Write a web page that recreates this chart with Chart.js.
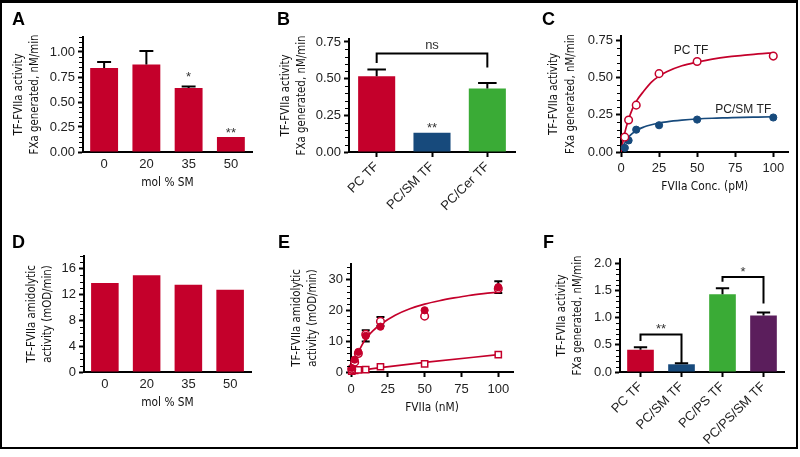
<!DOCTYPE html>
<html>
<head>
<meta charset="utf-8">
<script src="https://cdn.jsdelivr.net/npm/chart.js@4.4.1/dist/chart.umd.min.js"></script>
<style>
  html, body { margin: 0; padding: 0; background: #fff; }
  #fig { position: relative; width: 800px; height: 457px; overflow: hidden; background: #fff; }
  .panel { position: absolute; }
  .letter { position: absolute; font: bold 18px 'Liberation Sans', Arial, sans-serif; line-height: 18px; color: #000; }
  #frame { position: absolute; left: 0; top: 0; width: 798px; height: 449px; box-sizing: border-box;
           border: 2px solid #000; border-top-width: 3px; pointer-events: none; }
</style>
</head>
<body>
<div id="fig">
  <div class="panel" style="left:0;top:0;width:265px;height:220px"><canvas id="chartA"></canvas></div>
  <div class="panel" style="left:265px;top:0;width:265px;height:220px"><canvas id="chartB"></canvas></div>
  <div class="panel" style="left:530px;top:0;width:268px;height:220px"><canvas id="chartC"></canvas></div>
  <div class="panel" style="left:0;top:220px;width:265px;height:228px"><canvas id="chartD"></canvas></div>
  <div class="panel" style="left:265px;top:220px;width:265px;height:228px"><canvas id="chartE"></canvas></div>
  <div class="panel" style="left:530px;top:220px;width:268px;height:228px"><canvas id="chartF"></canvas></div>
  <div class="letter" style="left:12px;top:10px">A</div>
  <div class="letter" style="left:277px;top:10px">B</div>
  <div class="letter" style="left:542px;top:10px">C</div>
  <div class="letter" style="left:12px;top:233px">D</div>
  <div class="letter" style="left:278px;top:233px">E</div>
  <div class="letter" style="left:543px;top:233px">F</div>
  <div id="frame"></div>
</div>
<script>
// A: FXa generation vs mol % SM
const molSM = ['0', '20', '35', '50'];
const activityA = [0.84, 0.875, 0.64, 0.15];
const activityAErr = [0.06, 0.135, 0.016, 0];

// B: lipid compositions
const lipidsB = ['PC TF', 'PC/SM TF', 'PC/Cer TF'];
const activityB = [0.517, 0.132, 0.433];
const activityBErr = [0.046, 0, 0.038];

// C: FVIIa titration (pM)
const fviiaC = [2.5, 5, 10, 25, 50, 100];
const pcTfC = [0.10, 0.215, 0.315, 0.527, 0.609, 0.645];
const pcSmTfC = [0.028, 0.078, 0.15, 0.18, 0.218, 0.232];
const fitXC = [0, 2.5, 5, 7.5, 10, 15, 20, 25, 30, 40, 50, 60, 70, 80, 90, 100];
const pcTfFitC = [0, 0.13, 0.22, 0.29, 0.34, 0.41, 0.47, 0.51, 0.54, 0.58, 0.605, 0.625, 0.64, 0.65, 0.66, 0.667];
const pcSmTfFitC = [0, 0.06, 0.10, 0.125, 0.145, 0.168, 0.183, 0.195, 0.203, 0.214, 0.222, 0.227, 0.23, 0.233, 0.235, 0.237];

// D: amidolytic activity vs mol % SM
const amidoD = [13.8, 15.0, 13.55, 12.75];

// E: amidolytic activity vs FVIIa (nM)
const fviiaE = [0.5, 2.5, 5, 10, 20, 50, 100];
const filledE = [1.3, 4.0, 6.5, 11.7, 14.7, 20.0, 27.5];
const filledErrE = [0, 0, 0, 1.8, 0, 0, 1.9];
const openE = [0.9, 3.2, 6.0, 12.2, 16.4, 18.1, 27.0];
const openErrE = [0, 0, 0, 0, 1.4, 0, 0];
const squaresE = [0.3, 0.5, 0.7, 0.8, 1.7, 2.6, 5.6];
const fitXE = [0, 2.5, 5, 10, 15, 20, 30, 40, 50, 60, 70, 80, 90, 100];
const fitFilledE = [0, 3.5, 6.4, 10.8, 13.4, 15.4, 18.4, 20.5, 22.0, 23.1, 24.0, 24.8, 25.4, 25.9];
const fitSqX = [0, 10, 20, 50, 100];
const fitSquaresE = [0, 0.75, 1.4, 3.1, 5.6];

// F: PS-containing vesicles
const lipidsF = ['PC TF', 'PC/SM TF', 'PC/PS TF', 'PC/PS/SM TF'];
const activityF = [0.41, 0.142, 1.43, 1.04];
const activityFErr = [0.046, 0.02, 0.11, 0.056];

const RED = '#c4002b', BLUE = '#174a7c', GREEN = '#3aab36', PURPLE = '#5b1e5c';
const tickFont = { family: "'Liberation Sans', Arial, sans-serif", size: 13 };
const narrow = "'DejaVu Sans Condensed', 'Liberation Sans Narrow', 'Arial Narrow', sans-serif";
const yTitleFont = { family: narrow, size: 11.4, lineHeight: 1.45 };
const xTitleFont = { family: narrow, size: 11.8, lineHeight: 1.3 };

const xy = (xs, ys) => xs.map((x, i) => ({ x, y: ys[i] }));
// ticks only at multiples of the step, up to the axis max
const stepTicks = step => s => {
  const n = Math.floor(s.max / step + 1e-6);
  s.ticks = Array.from({ length: n + 1 }, (_, i) => ({ value: i * step }));
};

function yAxis(max, step, dec, title, titleGap, width) {
  return {
    min: 0, max, z: 1,
    afterBuildTicks: stepTicks(step),
    afterFit: s => { s.width = width; },
    ticks: { stepSize: step, font: tickFont, color: '#222', padding: 3, callback: v => v.toFixed(dec) },
    grid: { drawOnChartArea: false, tickLength: 5, tickWidth: 2, tickColor: '#000' },
    border: { color: '#000', width: 2 },
    title: { display: true, text: title, font: yTitleFont, color: '#111', padding: { top: titleGap, bottom: 0 } }
  };
}

function xCategory(title, rotation, showTicks, height, labelPad, titlePad) {
  return {
    z: 1,
    afterFit: s => { s.height = height; },
    ticks: { font: tickFont, color: '#222', padding: labelPad, autoSkip: false, minRotation: rotation, maxRotation: rotation },
    grid: { drawOnChartArea: false, offset: false, drawTicks: showTicks, tickLength: 5, tickWidth: 2, tickColor: '#000' },
    border: { color: '#000', width: 2 },
    title: title ? { display: true, text: title, font: xTitleFont, color: '#111', padding: { top: 0, bottom: titlePad } } : { display: false }
  };
}

function xLinear(max, step, title, height, labelPad, titlePad) {
  return {
    type: 'linear', min: 0, max, z: 1,
    afterBuildTicks: stepTicks(step),
    afterFit: s => { s.height = height; },
    ticks: { stepSize: step, font: tickFont, color: '#222', padding: labelPad },
    grid: { drawOnChartArea: false, tickLength: 5, tickWidth: 2, tickColor: '#000' },
    border: { color: '#000', width: 2 },
    title: { display: true, text: title, font: xTitleFont, color: '#111', padding: { top: 0, bottom: titlePad } }
  };
}

function drawErrors(chart, list) {
  const ctx = chart.ctx, ys = chart.scales.y;
  ctx.save();
  ctx.strokeStyle = '#000';
  ctx.lineWidth = 2;
  list.forEach(e => {
    const meta = chart.getDatasetMeta(e.dataset);
    const data = chart.data.datasets[e.dataset].data;
    e.values.forEach((err, i) => {
      if (!err) return;
      const el = meta.data[i];
      const v = typeof data[i] === 'object' ? data[i].y : data[i];
      const half = e.bars ? el.width / 4 : e.cap / 2;
      const top = ys.getPixelForValue(v + err);
      const bot = ys.getPixelForValue(e.bars ? v : v - err);
      ctx.beginPath();
      ctx.moveTo(el.x, bot); ctx.lineTo(el.x, top);
      ctx.moveTo(el.x - half, top); ctx.lineTo(el.x + half, top);
      if (!e.bars) { ctx.moveTo(el.x - half, bot); ctx.lineTo(el.x + half, bot); }
      ctx.stroke();
    });
  });
  ctx.restore();
}

const marks = {
  id: 'marks',
  beforeDatasetsDraw(chart, args, o) {
    drawErrors(chart, (o.errors || []).filter(e => !e.bars));
  },
  afterDatasetsDraw(chart, args, o) {
    drawErrors(chart, (o.errors || []).filter(e => e.bars));
    const ctx = chart.ctx, xs = chart.scales.x, ys = chart.scales.y;
    ctx.save();
    ctx.strokeStyle = '#000';
    ctx.lineWidth = 2;
    (o.brackets || []).forEach(b => {
      const x1 = xs.getPixelForValue(b.from), x2 = xs.getPixelForValue(b.to), y = ys.getPixelForValue(b.y);
      ctx.beginPath();
      ctx.moveTo(x1, ys.getPixelForValue(b.ends[0]));
      ctx.lineTo(x1, y); ctx.lineTo(x2, y);
      ctx.lineTo(x2, ys.getPixelForValue(b.ends[1]));
      ctx.stroke();
    });
    ctx.textAlign = 'center';
    ctx.textBaseline = 'alphabetic';
    (o.notes || []).forEach(n => {
      ctx.font = (n.size || 13) + "px 'Liberation Sans', Arial, sans-serif";
      ctx.fillStyle = n.color || '#333';
      ctx.fillText(n.text, xs.getPixelForValue(n.x), ys.getPixelForValue(n.y));
    });
    ctx.restore();
  },
  afterDraw(chart, args, o) {
    if (!o.minor) return;
    const ctx = chart.ctx, ys = chart.scales.y, x0 = chart.chartArea.left - 1;
    const n = Math.floor(ys.max / o.minor + 1e-6);
    ctx.save();
    ctx.strokeStyle = '#000';
    ctx.lineWidth = 1.2;
    ctx.beginPath();
    for (let i = 1; i <= n; i++) {
      const v = i * o.minor;
      if (Math.abs(v / o.major - Math.round(v / o.major)) < 1e-6) continue;
      const y = Math.round(ys.getPixelForValue(v)) + 0.5;
      ctx.moveTo(x0 - 3, y); ctx.lineTo(x0, y);
    }
    ctx.stroke();
    ctx.restore();
  }
};

function options(pad, scales, marksOpts) {
  return {
    responsive: true, maintainAspectRatio: false, animation: false,
    layout: { padding: pad },
    scales,
    plugins: { legend: { display: false }, tooltip: { enabled: false }, marks: marksOpts }
  };
}

const activityTitle = ['TF-FVIIa activity', 'FXa generated, nM/min'];
const amidoTitle = ['TF-FVIIa amidolytic', 'activity (mOD/min)'];

// A
new Chart(document.getElementById('chartA'), {
  type: 'bar',
  data: { labels: molSM, datasets: [{ data: activityA, backgroundColor: RED, categoryPercentage: 1, barPercentage: 0.66 }] },
  options: options({ top: 37, right: 13, left: 0, bottom: 0 }, {
    x: xCategory('mol % SM', 0, false, 68, 5, 29),
    y: yAxis(1.15, 0.25, 2, activityTitle, 10.5, 83)
  }, {
    minor: 0.05, major: 0.25,
    errors: [{ dataset: 0, values: activityAErr, bars: true }],
    notes: [{ text: '*', x: 2, y: 0.71 }, { text: '**', x: 3, y: 0.152 }]
  }),
  plugins: [marks]
});

// B
new Chart(document.getElementById('chartB'), {
  type: 'bar',
  data: { labels: lipidsB, datasets: [{ data: activityB, backgroundColor: [RED, BLUE, GREEN], categoryPercentage: 1, barPercentage: 0.67 }] },
  options: options({ top: 39, right: 15, left: 0, bottom: 0 }, {
    x: xCategory(null, 45, true, 68, 2, 0),
    y: yAxis(0.77, 0.25, 2, activityTitle, 12.5, 84)
  }, {
    minor: 0.05, major: 0.25,
    errors: [{ dataset: 0, values: activityBErr, bars: true }],
    brackets: [{ from: 0, to: 2, y: 0.671, ends: [0.607, 0.576] }],
    notes: [{ text: 'ns', x: 1, y: 0.705 }, { text: '**', x: 1, y: 0.135 }]
  }),
  plugins: [marks]
});

// C
new Chart(document.getElementById('chartC'), {
  type: 'scatter',
  data: { datasets: [
    { data: xy(fviiaC, pcTfC), pointRadius: 3.8, borderWidth: 1.5, borderColor: RED, backgroundColor: '#fff', clip: false },
    { data: xy(fviiaC, pcSmTfC), pointRadius: 3.6, borderWidth: 1, borderColor: BLUE, backgroundColor: BLUE, clip: false },
    { data: xy(fitXC, pcTfFitC), showLine: true, pointRadius: 0, borderColor: RED, borderWidth: 1.7, cubicInterpolationMode: 'monotone' },
    { data: xy(fitXC, pcSmTfFitC), showLine: true, pointRadius: 0, borderColor: BLUE, borderWidth: 1.7, cubicInterpolationMode: 'monotone' }
  ] },
  options: options({ top: 36, right: 9.5, left: 0, bottom: 0 }, {
    x: xLinear(110, 25, 'FVIIa Conc. (pM)', 68, 3.5, 25.5),
    y: yAxis(0.78, 0.25, 2, activityTitle, 16, 91)
  }, {
    minor: 0.05, major: 0.25,
    notes: [{ text: 'PC TF', x: 46, y: 0.656, size: 12, color: '#222' },
            { text: 'PC/SM TF', x: 80.3, y: 0.26, size: 12, color: '#222' }]
  }),
  plugins: [marks]
});

// D
new Chart(document.getElementById('chartD'), {
  type: 'bar',
  data: { labels: molSM, datasets: [{ data: amidoD, backgroundColor: RED, categoryPercentage: 1, barPercentage: 0.66 }] },
  options: options({ top: 36, right: 14, left: 0, bottom: 0 }, {
    x: xCategory('mol % SM', 0, false, 76, 5, 37),
    y: yAxis(18, 4, 0, amidoTitle, 23.5, 84)
  }, { minor: 1, major: 4 }),
  plugins: [marks]
});

// E
new Chart(document.getElementById('chartE'), {
  type: 'scatter',
  data: { datasets: [
    { data: xy(fviiaE, filledE), pointRadius: 3.6, borderWidth: 1, borderColor: RED, backgroundColor: RED, clip: false },
    { data: xy(fviiaE, openE), pointRadius: 3.8, borderWidth: 1.5, borderColor: RED, backgroundColor: '#fff', clip: false },
    { data: xy(fviiaE, squaresE), pointStyle: 'rect', pointRadius: 4.4, borderWidth: 1.5, borderColor: RED, backgroundColor: '#fff', clip: false },
    { data: xy(fitXE, fitFilledE), showLine: true, pointRadius: 0, borderColor: RED, borderWidth: 1.7, cubicInterpolationMode: 'monotone' },
    { data: xy(fitSqX, fitSquaresE), showLine: true, pointRadius: 0, borderColor: RED, borderWidth: 1.7, cubicInterpolationMode: 'monotone' }
  ] },
  options: options({ top: 44, right: 17, left: 0, bottom: 0 }, {
    x: xLinear(110, 25, 'FVIIa (nM)', 76, 4.5, 32),
    y: yAxis(35, 10, 0, amidoTitle, 23.5, 86)
  }, {
    minor: 2, major: 10,
    errors: [{ dataset: 0, values: filledErrE, cap: 8 }, { dataset: 1, values: openErrE, cap: 8 }]
  }),
  plugins: [marks]
});

// F
new Chart(document.getElementById('chartF'), {
  type: 'bar',
  data: { labels: lipidsF, datasets: [{ data: activityF, backgroundColor: [RED, BLUE, GREEN, PURPLE], categoryPercentage: 1, barPercentage: 0.65 }] },
  options: options({ top: 39, right: 14, left: 0, bottom: 0 }, {
    x: xCategory(null, 45, true, 76, 2, 0),
    y: yAxis(2.08, 0.5, 1, activityTitle, 23.5, 90)
  }, {
    minor: 0.1, major: 0.5,
    errors: [{ dataset: 0, values: activityFErr, bars: true }],
    brackets: [{ from: 0, to: 1, y: 0.69, ends: [0.572, 0.166] }, { from: 2, to: 3, y: 1.75, ends: [1.66, 1.262] }],
    notes: [{ text: '**', x: 0.5, y: 0.727 }, { text: '*', x: 2.5, y: 1.77 }]
  }),
  plugins: [marks]
});
</script>
</body>
</html>
